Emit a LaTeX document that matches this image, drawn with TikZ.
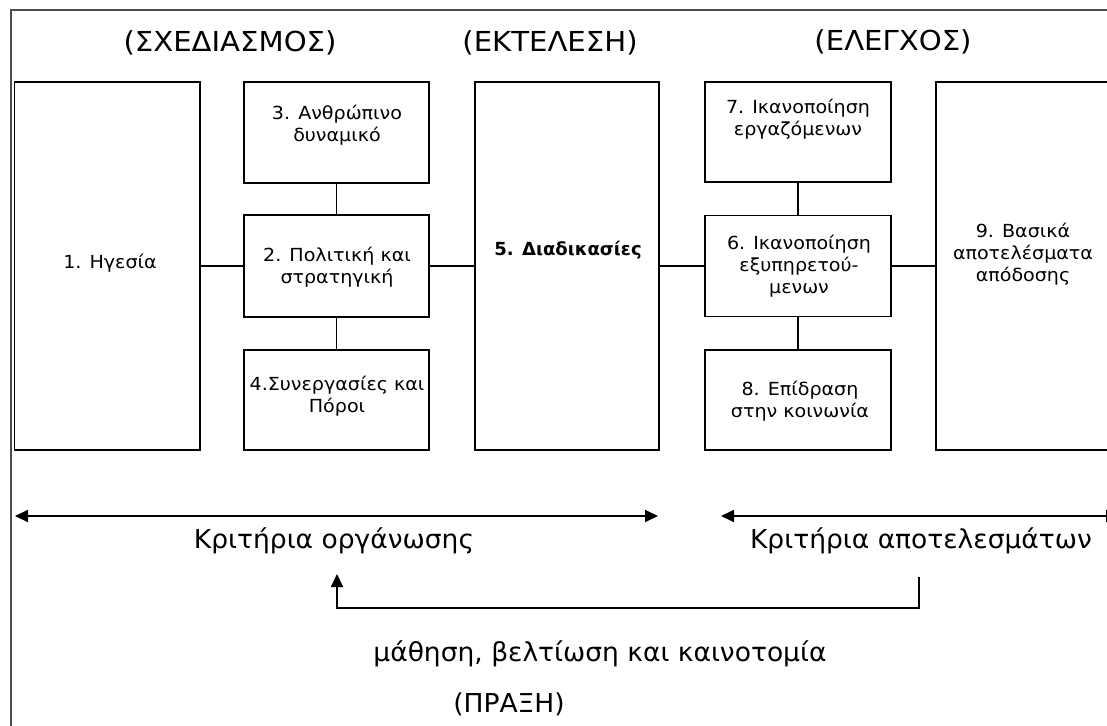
\documentclass[tikz,border=0pt]{standalone}
\usepackage{fontspec}
\setmainfont{DejaVu Sans}
\newfontfamily\boxfont{DejaVu Sans}[FakeStretch=1.06]
\newfontfamily\hdrfont{DejaVu Sans}[FakeStretch=1.06]
\newfontfamily\lowfont{DejaVu Sans}[FakeStretch=1.02]
\usetikzlibrary{arrows.meta}
\begin{document}
\begin{tikzpicture}[x=1pt,y=-1pt,
  box/.style={draw=black,line width=1.8pt,minimum width=185pt,inner sep=0pt},
  btxt/.style={align=center,inner sep=0pt,font=\boxfont\fontsize{18}{22}\selectfont},
  big/.style={anchor=base,inner sep=0pt,font=\lowfont\fontsize{26}{30}\selectfont},
  hdr/.style={anchor=base,inner sep=0pt,font=\hdrfont\fontsize{27.5}{30}\selectfont},
  conn/.style={line width=1.8pt},
  arr/.style={line width=1.8pt},
  tri/.tip={Triangle[length=13pt,width=12pt]}
]
\useasboundingbox (0,0) rectangle (1107,725);
\clip (0,0) rectangle (1107,725);
% outer frame (cropped)
\coordinate (fr1) at (11,740);
\coordinate (fr2) at (1120,10);
\draw[draw=black!70,line width=1.8pt] (fr1) |- (fr2);
% boxes
\node[box,minimum width=185.5pt,minimum height=368pt] (b1) at (107.25,266) {};
\node[box,minimum height=101pt] (b3) at (336.5,132.5) {};
\node[box,minimum height=102pt] (b2) at (336.5,266) {};
\node[box,minimum height=100pt] (b4) at (336.5,400) {};
\node[box,minimum width=184pt,minimum height=368pt] (b5) at (567,266) {};
\node[box,minimum width=186pt,minimum height=100pt] (b7) at (798,132) {};
\node[box,minimum width=186pt,minimum height=101pt] (b6) at (798,266) {};
\node[box,minimum width=186pt,minimum height=100pt] (b8) at (798,400) {};
\node[box,minimum width=180pt,minimum height=368pt] (b9) at (1026,266) {};
% box texts
\node[btxt] (t1) at (110,263) {1. Ηγεσία};
\node[btxt] (t3) at (337,125.5) {3. Ανθρώπινο\\δυναμικό};
\node[btxt] (t2) at (337,267.5) {2. Πολιτική και\\στρατηγική};
\node[btxt] (t4) at (337,396) {4.Συνεργασίες και\\Πόροι};
\node[btxt,font=\fontsize{18}{22}\selectfont\bfseries] (t5) at (568,250) {5. Διαδικασίες};
\node[btxt] (t7) at (798,119) {7. Ικανοποίηση\\εργαζόμενων};
\node[btxt] (t6) at (799,266) {6. Ικανοποίηση\\εξυπηρετού-\\μενων};
\node[btxt] (t8) at (800,401) {8. Επίδραση\\στην κοινωνία};
\node[btxt] (t9) at (1023,254) {9. Βασικά\\αποτελέσματα\\απόδοσης};
% connectors
\draw[conn] (b1) -- (b2);
\draw[conn] (b2) -- (b5);
\draw[conn] (b5) -- (b6);
\draw[conn] (b6) -- (b9);
\draw[conn] (b3) -- (b2);
\draw[conn] (b2) -- (b4);
\draw[conn] (b7) -- (b6);
\draw[conn] (b6) -- (b8);
% headers
\node[hdr] (h1) at (230,52) {(ΣΧΕΔΙΑΣΜΟΣ)};
\node[hdr] (h2) at (550,52) {(ΕΚΤΕΛΕΣΗ)};
\node[hdr] (h3) at (893,51) {(ΕΛΕΓΧΟΣ)};
% criteria arrows
\coordinate (oL) at (15,516);
\coordinate (oR) at (658,516);
\draw[arr,tri-tri] (oL) -- (oR);
\coordinate (aL) at (721,516);
\coordinate (aR) at (1119,516);
\draw[arr,tri-tri] (aL) -- (aR);
\node[big] (k1) at (334,548) {Κριτήρια οργάνωσης};
\node[big] (k2) at (921,548) {Κριτήρια αποτελεσμάτων};
% feedback arrow
\coordinate (fS) at (919,577);
\coordinate (fB) at (919,608);
\coordinate (fE) at (337,574);
\draw[arr,-tri] (fS) -- (fB) -| (fE);
\node[big] (m) at (600,661) {μάθηση, βελτίωση και καινοτομία};
\node[big] (p) at (509,712) {(ΠΡΑΞΗ)};
\end{tikzpicture}
\end{document}
